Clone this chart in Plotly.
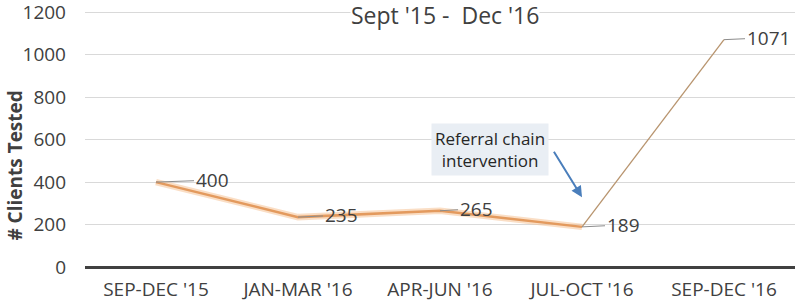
import plotly.graph_objects as go

categories = ["SEP-DEC '15", "JAN-MAR '16", "APR-JUN '16", "JUL-OCT '16", "SEP-DEC '16"]
clients_tested = [400, 235, 265, 189, 1071]
y_ticks = [0, 200, 400, 600, 800, 1000, 1200]
label_offsets = [56, 43, 36, 41, 44]  # px offsets of data labels
title_text = "Sept '15 -  Dec '16"
note_text = "Referral chain<br>intervention"
y_title = "<b># Clients Tested</b>"

FONT = "Open Sans"
fig = go.Figure()

# pre-intervention segment: thick orange with a light halo
fig.add_trace(go.Scatter(x=categories[:4], y=clients_tested[:4], mode="lines",
                         line=dict(color="rgba(245,195,150,0.55)", width=6.5),
                         hoverinfo="skip", showlegend=False))
fig.add_trace(go.Scatter(x=categories[:4], y=clients_tested[:4], mode="lines",
                         line=dict(color="#E39A5E", width=2.5),
                         showlegend=False))
# post-intervention segment: thin tan line
fig.add_trace(go.Scatter(x=categories[3:], y=clients_tested[3:], mode="lines",
                         line=dict(color="#B8946E", width=1.3),
                         showlegend=False))

for c, v, off in zip(categories, clients_tested, label_offsets):
    fig.add_annotation(x=c, y=v, xref="x", yref="y", text=str(v),
                       showarrow=True, arrowhead=0, arrowwidth=1, arrowcolor="#8c8c8c",
                       ax=off, ay=-2, standoff=0,
                       font=dict(family=FONT, size=19, color="#404040"))

# intervention note box
fig.add_annotation(x=2.35, y=555, xref="x", yref="y", text=note_text,
                   showarrow=False, xanchor="center", yanchor="middle",
                   font=dict(family=FONT, size=17, color="#262626"),
                   bgcolor="#E9EEF4", borderpad=3, align="center")
# intervention arrow
fig.add_annotation(x=3, y=329, xref="x", yref="y", text="",
                   showarrow=True, arrowhead=2, arrowsize=1.1, arrowwidth=2,
                   arrowcolor="#4A7EBB", ax=-29, ay=-47, standoff=0)

# title
fig.add_annotation(x=0.5, xref="paper", y=1200, yref="y", text=title_text,
                   showarrow=False, xanchor="center", yanchor="middle",
                   xshift=5, yshift=-3,
                   font=dict(family=FONT, size=23, color="#404040"),
                   bgcolor="white", borderpad=0)

# y axis title
fig.add_annotation(x=-0.0986, xref="paper", y=0.396, yref="paper", text=y_title,
                   textangle=-90, showarrow=False, xanchor="center", yanchor="middle",
                   font=dict(family=FONT, size=19, color="#404040"))

fig.update_layout(
    width=800, height=304,
    margin=dict(l=85, r=5, t=11, b=37),
    plot_bgcolor="white", paper_bgcolor="white",
    font=dict(family=FONT, color="#404040"),
    xaxis=dict(type="category", range=[-0.5, 4.5], showgrid=False,
               showline=False, zeroline=False, ticks="", automargin=False,
               ticklabelstandoff=9, ticklabeloverflow="allow",
               tickfont=dict(family=FONT, size=19, color="#404040")),
    yaxis=dict(range=[0, 1206], tickvals=y_ticks, showgrid=True,
               gridcolor="#D9D9D9", gridwidth=1, zeroline=True,
               zerolinecolor="#404040", zerolinewidth=2.5, showline=False,
               ticks="", ticklabelstandoff=18, automargin=False,
               ticklabeloverflow="allow",
               tickfont=dict(family=FONT, size=19, color="#404040")),
)

fig.write_html("out.html", config={"displayModeBar": False},
               post_script="document.body.style.margin='0';")
